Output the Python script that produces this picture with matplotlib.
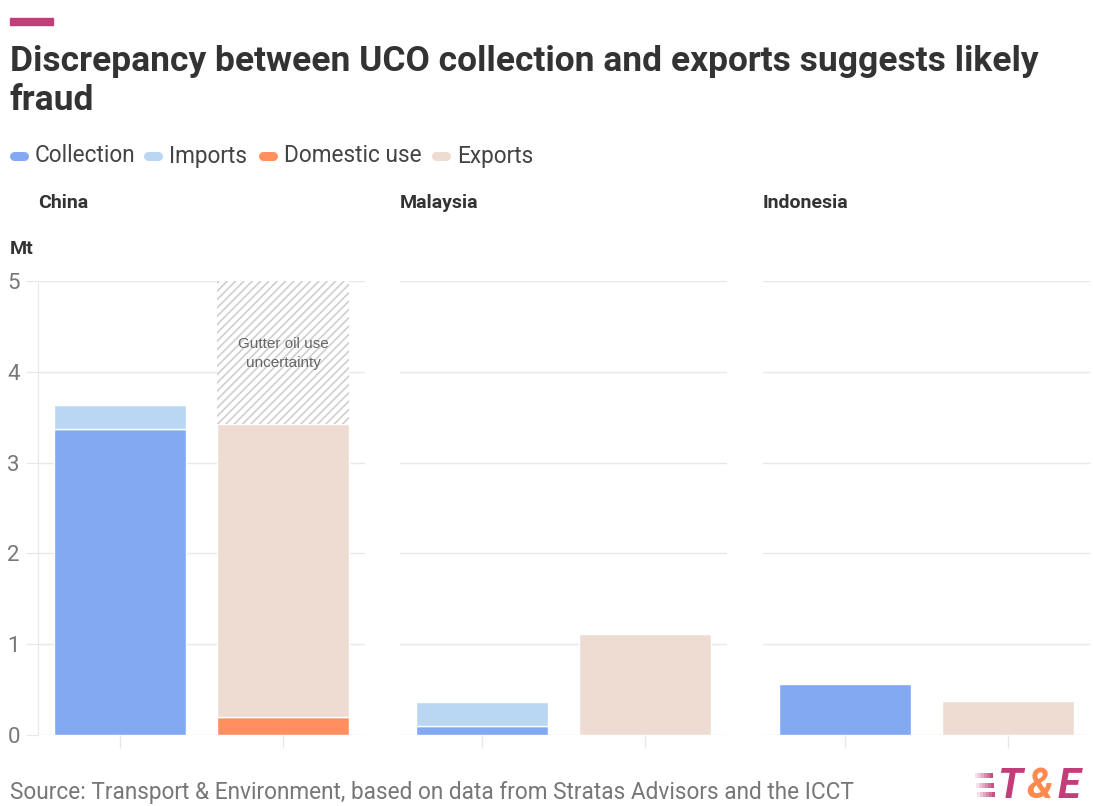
import matplotlib.pyplot as plt
from matplotlib.lines import Line2D
from matplotlib.patches import Rectangle

# values in Mt
countries = ["China", "Malaysia", "Indonesia"]
collection = [3.37, 0.10, 0.56]
imports = [0.26, 0.26, 0.0]
domestic_use = [0.20, 0.0, 0.0]
exports = [3.22, 1.11, 0.37]
gutter_top = 5.0  # hatched uncertainty band on China's export bar
y_ticks = [0, 1, 2, 3, 4, 5]
series = ["Collection", "Imports", "Domestic use", "Exports"]

c_coll = "#82a9f2"
c_imp = "#b9d6f3"
c_dom = "#ff8f5f"
c_exp = "#eedcd2"
grid_c = "#e8e8e8"
pink = "#c33d78"

plt.rcParams["font.family"] = ["Roboto", "DejaVu Sans"]
plt.rcParams["hatch.linewidth"] = 1.2

W, H = 1093, 806
fig = plt.figure(figsize=(W / 100, H / 100), dpi=100)


def fx(px):
    return px / W


def fy(py):
    return 1 - py / H


lefts = [38, 400, 763]
for i, name in enumerate(countries):
    ax = fig.add_axes([fx(lefts[i]), 71 / H, 327 / W, 454 / H])
    ax.bar(0, collection[i], width=0.805, color=c_coll, edgecolor="white", linewidth=1, zorder=3)
    if imports[i]:
        ax.bar(0, imports[i], bottom=collection[i], width=0.805, color=c_imp,
               edgecolor="white", linewidth=1, zorder=3)
    if domestic_use[i]:
        ax.bar(1, domestic_use[i], width=0.805, color=c_dom, edgecolor="white", linewidth=1, zorder=3)
    ax.bar(1, exports[i], bottom=domestic_use[i], width=0.805, color=c_exp,
           edgecolor="white", linewidth=1, zorder=3)
    if name == "China":
        top = domestic_use[i] + exports[i]
        ax.bar(1, gutter_top - top, bottom=top, width=0.805, color="white",
               edgecolor="#cfcfcf", hatch="////", linewidth=0, zorder=3)
        ax.text(1, 4.2, "Gutter oil use\nuncertainty", ha="center", va="center",
                fontsize=11, color="#666666", family="Liberation Sans", zorder=4,
                linespacing=1.45)

    ax.set_xlim(-0.5, 1.5)
    ax.set_ylim(0, 5)
    ax.set_yticks(y_ticks)
    ax.set_xticks([0, 1])
    ax.set_xticklabels([])
    ax.grid(axis="y", color=grid_c, linewidth=1, zorder=0)
    for s in ["top", "right", "bottom"]:
        ax.spines[s].set_visible(False)
    ax.tick_params(axis="x", length=9, color=grid_c, width=1)
    if i == 0:
        ax.spines["left"].set_color(grid_c)
        ax.tick_params(axis="y", length=9, color=grid_c, labelsize=16, labelcolor="#777777", pad=4)
    else:
        ax.spines["left"].set_visible(False)
        ax.tick_params(axis="y", length=0, labelleft=False)
    fig.text(fx(lefts[i]), fy(203), name, fontsize=14, fontweight="bold",
             color="#333333", va="center")

# header
fig.patches.append(Rectangle((fx(10), fy(25)), 43 / W, 7 / H,
                             transform=fig.transFigure, color=pink, figure=fig))
fig.text(fx(10), fy(61), "Discrepancy between UCO collection and exports suggests likely",
         fontsize=25.5, fontweight="bold", color="#333333", va="center")
fig.text(fx(10), fy(101), "fraud",
         fontsize=25.5, fontweight="bold", color="#333333", va="center")
fig.text(fx(10), fy(249), "Mt", fontsize=14, fontweight="bold",
         color="#333333", va="center")

# legend drawn by hand so the spacing follows the original
marker_x = [10, 144, 259, 432]
for c, label, mx in zip([c_coll, c_imp, c_dom, c_exp], series, marker_x):
    fig.add_artist(Line2D([fx(mx + 4), fx(mx + 14)], [fy(156), fy(156)], color=c, lw=6.5,
                          solid_capstyle="round", transform=fig.transFigure))
    fig.text(fx(mx + 25), fy(156), label, fontsize=16.3, color="#444444", va="center")

fig.text(fx(10), fy(792),
         "Source: Transport & Environment, based on data from Stratas Advisors and the ICCT",
         fontsize=16.3, color="#777777", va="center")

# T&E logo
for k in range(3):
    y0 = 773 + 9.5 * k
    for j in range(6):
        fig.patches.append(Rectangle((fx(975 + 3 * j + k), fy(y0 + 5)), 3.2 / W, 5 / H,
                                     transform=fig.transFigure, color=pink,
                                     alpha=0.15 + 0.15 * j, linewidth=0, figure=fig))
fig.text(fx(997), fy(786), "T", fontsize=30, fontweight="bold", style="italic",
         color=pink, va="center")
fig.text(fx(1026), fy(786), "&", fontsize=30, fontweight="bold", style="italic",
         color="#ff8a50", va="center")
fig.text(fx(1058), fy(786), "E", fontsize=30, fontweight="bold", style="italic",
         color=pink, va="center")

fig.savefig("out.png", dpi=100, facecolor="white")
